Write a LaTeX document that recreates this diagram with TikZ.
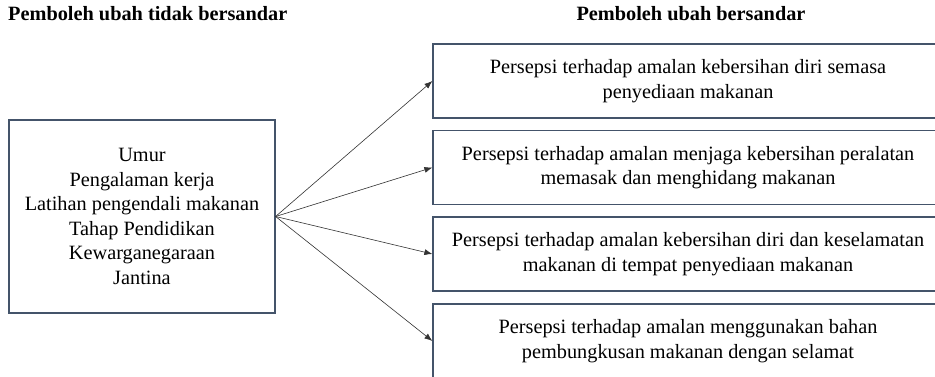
\documentclass[tikz,border=0pt]{standalone}
\definecolor{boxBorder}{HTML}{44546A}
\definecolor{arrowGrey}{HTML}{333333}
\usepackage{fontspec}
\setmainfont{Liberation Serif}
\usepackage{tikz}
\usetikzlibrary{arrows.meta, positioning}
\usepackage{xcolor}
\newcommand{\bodyFont}{\fontsize{20.3}{24.5}\selectfont}
\tikzset{
  varbox/.style={draw=boxBorder, line width=1.2pt, align=center, inner sep=0pt, font=\bodyFont},
  depbox/.style={varbox, minimum width=510pt, minimum height=74pt},
  heading/.style={font=\bodyFont\bfseries, inner sep=0pt},
  link/.style={draw=arrowGrey, line width=0.6pt, -{Latex[length=8pt, width=6pt]}}
}

\begin{document}
\begin{tikzpicture}[x=1pt, y=-1pt]
      \clip (0,0) rectangle (935,377);
      \fill[white] (0,0) rectangle (935,377);

      % headings
      \node[heading, anchor=west] (hTidak) at (8,14) {Pemboleh ubah tidak bersandar};
      \node[heading] (hBersandar) at (691,14) {Pemboleh ubah bersandar};

      % independent variables
      \node[varbox, minimum width=266pt, minimum height=193pt] (tidak) at (142,216.5) {%
        Umur\\Pengalaman kerja\\Latihan pengendali makanan\\Tahap Pendidikan\\Kewarganegaraan\\Jantina};

      % dependent variables
      \node[depbox] (dep1) at (688,81) {Persepsi terhadap amalan kebersihan diri semasa\\penyediaan makanan};
      \node[depbox] (dep2) at (688,167.5) {Persepsi terhadap amalan menjaga kebersihan peralatan\\memasak dan menghidang makanan};
      \node[depbox] (dep3) at (688,254) {Persepsi terhadap amalan kebersihan diri dan keselamatan\\makanan di tempat penyediaan makanan};
      \node[depbox] (dep4) at (688,341) {Persepsi terhadap amalan menggunakan bahan\\pembungkusan makanan dengan selamat};

      \foreach \d in {dep1, dep2, dep3, dep4}
        \draw[link] (tidak.east) -- (\d.west);
    \end{tikzpicture}
\end{document}
